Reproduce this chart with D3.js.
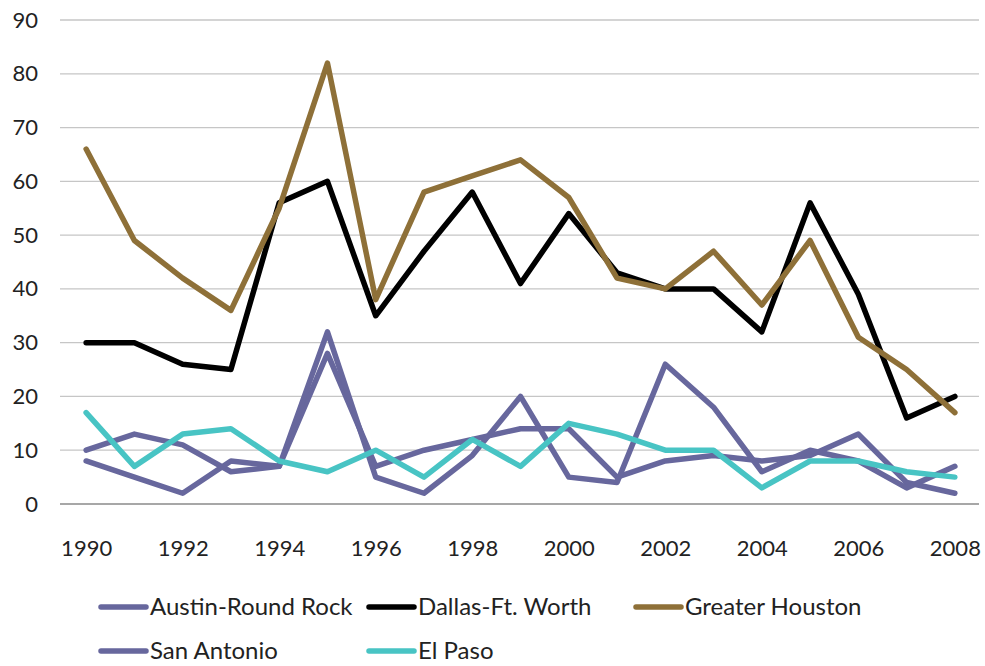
<!DOCTYPE html>
<html>
<head>
<meta charset="utf-8">
<script src="https://cdn.jsdelivr.net/npm/d3@7"></script>
<style>
  body { margin: 0; background: #fff; }
  text { font-family: Lato, "Open Sans", sans-serif; fill: #222; }
</style>
</head>
<body>
<div id="chart"></div>
<script>
var years = [1990,1991,1992,1993,1994,1995,1996,1997,1998,1999,2000,2001,2002,2003,2004,2005,2006,2007,2008];
var xTickLabels = [1990,1992,1994,1996,1998,2000,2002,2004,2006,2008];
var yTicks = [0,10,20,30,40,50,60,70,80,90];

var seriesNames = ["Austin-Round Rock", "Dallas-Ft. Worth", "Greater Houston", "San Antonio", "El Paso"];
var seriesColors = ["#67679d", "#000000", "#8e7038", "#67679d", "#48c4c4"];

var austin      = [10,13,11,6,7,28,7,10,12,14,14,5,8,9,8,9,13,4,2];
var dallas      = [30,30,26,25,56,60,35,47,58,41,54,43,40,40,32,56,39,16,20];
var houston     = [66,49,42,36,55,82,38,58,61,64,57,42,40,47,37,49,31,25,17];
var sanAntonio  = [8,5,2,8,7,32,5,2,9,20,5,4,26,18,6,10,8,3,7];
var elPaso      = [17,7,13,14,8,6,10,5,12,7,15,13,10,10,3,8,8,6,5];

var allSeries = [austin, dallas, houston, sanAntonio, elPaso];

var margin = { top: 20, left: 62, right: 6, bottom: 162 },
  width = 985 - margin.left - margin.right,
  height = 666 - margin.top - margin.bottom;

var svg = d3.select("#chart")
  .append("svg")
  .attr("width", 985)
  .attr("height", 666)
  .append("g")
  .attr("transform", "translate(" + margin.left + "," + margin.top + ")");

var xPositionScale = d3.scalePoint().domain(years).range([0, width]).padding(0.5);
var yPositionScale = d3.scaleLinear().domain([0, 90]).range([height, 0]);

// gridlines
svg.selectAll(".grid")
  .data(yTicks.slice(1))
  .enter().append("line")
  .attr("class", "grid")
  .attr("x1", -2)
  .attr("x2", width)
  .attr("y1", function(d) { return yPositionScale(d); })
  .attr("y2", function(d) { return yPositionScale(d); })
  .attr("stroke", "#c6c6c6")
  .attr("stroke-width", 1.3);

// y labels
var yAxis = d3.axisLeft(yPositionScale).tickValues(yTicks).tickSize(0).tickPadding(24);
svg.append("g")
  .attr("class", "axis y-axis")
  .call(yAxis)
  .call(function(g) { g.select(".domain").remove(); })
  .selectAll("text")
  .attr("font-size", 22)
  .style("font-family", "Lato, sans-serif");

// x axis
var xAxis = d3.axisBottom(xPositionScale).tickValues(xTickLabels).tickSize(0).tickPadding(36);
svg.append("g")
  .attr("class", "axis x-axis")
  .attr("transform", "translate(0," + height + ")")
  .call(xAxis)
  .call(function(g) {
    g.select(".domain").attr("stroke", "#8a8a8a").attr("stroke-width", 1.5)
      .attr("d", "M-2,0H" + width);
  })
  .selectAll("text")
  .attr("font-size", 22)
  .style("font-family", "Lato, sans-serif");

var line = d3.line()
  .x(function(d, i) { return xPositionScale(years[i]); })
  .y(function(d) { return yPositionScale(d); });

svg.selectAll(".series")
  .data(allSeries)
  .enter().append("path")
  .attr("class", "series")
  .attr("d", function(d) { return line(d); })
  .attr("fill", "none")
  .attr("stroke", function(d, i) { return seriesColors[i]; })
  .attr("stroke-width", 5.5)
  .attr("stroke-linejoin", "round")
  .attr("stroke-linecap", "round");

// legend
var legendPos = [[101, 607], [369, 607], [636, 607], [101, 651], [369, 651]];
var legend = d3.select("svg").selectAll(".legend")
  .data(seriesNames)
  .enter().append("g")
  .attr("class", "legend")
  .attr("transform", function(d, i) { return "translate(" + legendPos[i][0] + "," + legendPos[i][1] + ")"; });

legend.append("line")
  .attr("x1", 0).attr("x2", 45)
  .attr("y1", 0).attr("y2", 0)
  .attr("stroke", function(d, i) { return seriesColors[i]; })
  .attr("stroke-width", 5.5)
  .attr("stroke-linecap", "round");

legend.append("text")
  .attr("x", 49)
  .attr("dy", "0.35em")
  .attr("font-size", 24)
  .text(function(d) { return d; });
</script>
</body>
</html>
